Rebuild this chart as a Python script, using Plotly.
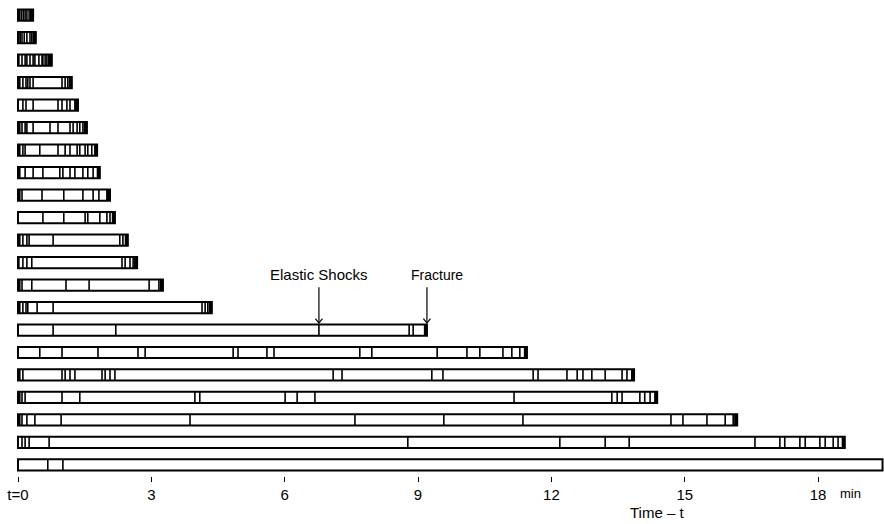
import plotly.graph_objects as go

# Duration of each test run in minutes, listed from the top row down
run_end = [0.34, 0.40, 0.76, 1.21, 1.35, 1.55, 1.78, 1.84, 2.07, 2.18, 2.47,
           2.68, 3.26, 4.36, 9.20, 11.45, 13.86, 14.38, 16.18, 18.60, 19.45]

# Runs that ended with the specimen breaking (dark cap at the right end)
fractured = [True] * 20 + [False]

# Times (minutes) of the recorded events inside each run
run_marks = [
    [0.04, 0.08, 0.12, 0.16, 0.20, 0.25, 0.29],
    [0.02, 0.05, 0.09, 0.14, 0.20, 0.27, 0.31, 0.35],
    [0.02, 0.09, 0.16, 0.20, 0.27, 0.34, 0.38, 0.47, 0.54, 0.56, 0.61, 0.65, 0.69],
    [0.04, 0.11, 0.18, 0.22, 0.27, 0.34, 0.99, 1.06, 1.12],
    [0.11, 0.18, 0.34, 0.90, 0.99, 1.10, 1.17, 1.28],
    [0.04, 0.09, 0.16, 0.20, 0.34, 0.72, 0.90, 1.17, 1.24, 1.33, 1.39, 1.46],
    [0.04, 0.11, 0.16, 0.49, 0.90, 1.06, 1.17, 1.33, 1.39, 1.51, 1.57, 1.66],
    [0.04, 0.16, 0.34, 0.56, 0.94, 1.01, 1.17, 1.28, 1.46, 1.57, 1.69],
    [0.04, 0.09, 0.54, 1.03, 1.46, 1.69, 1.82, 2.00],
    [0.56, 1.03, 1.51, 1.57, 1.84, 2.00, 2.07],
    [0.04, 0.11, 0.20, 0.25, 0.79, 2.29, 2.36, 2.43],
    [0.02, 0.11, 0.20, 0.31, 2.34, 2.41, 2.52, 2.59],
    [0.04, 0.09, 0.31, 1.08, 1.60, 2.95, 3.17],
    [0.04, 0.11, 0.18, 0.22, 0.43, 0.79, 4.14, 4.21, 4.27],
    [0.79, 2.20, 6.77, 8.80, 8.89],
    [0.49, 0.99, 1.80, 2.70, 2.86, 4.84, 4.95, 5.60, 5.76, 7.69, 7.96, 9.43,
     10.10, 10.39, 10.91, 11.11, 11.29],
    [0.04, 0.11, 0.99, 1.06, 1.17, 1.28, 1.89, 1.96, 2.07, 2.18, 7.09, 7.29,
     9.31, 9.56, 11.59, 11.70, 12.35, 12.58, 12.71, 12.91, 13.21, 13.59, 13.70, 13.81],
    [0.04, 0.09, 0.16, 0.99, 1.39, 3.98, 4.09, 6.01, 6.28, 6.68, 11.16, 13.36,
     13.48, 13.59, 13.99, 14.10, 14.22],
    [0.04, 0.09, 0.20, 0.38, 0.97, 3.87, 7.58, 9.58, 11.36, 14.69, 14.96, 15.50,
     15.91, 16.09],
    [0.09, 0.16, 0.25, 0.70, 8.77, 12.19, 13.21, 13.75, 16.58, 17.14, 17.25,
     17.59, 17.71, 18.04, 18.16, 18.34, 18.45],
    [0.67, 1.01],
]

tick_vals = [0, 3, 6, 9, 12, 15, 18]
tick_text = ["t=0", "3", "6", "9", "12", "15", "18"]

shock_time = 6.77
fracture_row = 14
fracture_time = run_end[fracture_row]

FONT = "Liberation Sans"
rows = list(range(len(run_end)))
half = 0.24  # half bar thickness in row units

fig = go.Figure()

# Run bars: white boxes with a black outline
fig.add_trace(go.Bar(
    y=rows, x=run_end, base=0, orientation="h", width=0.5,
    marker=dict(color="white", line=dict(color="black", width=2)),
    hoverinfo="skip",
))

# Event marks inside each bar
mx, my = [], []
for r, marks in zip(rows, run_marks):
    for m in marks:
        mx += [m, m, None]
        my += [r - half, r + half, None]
fig.add_trace(go.Scatter(x=mx, y=my, mode="lines",
                         line=dict(color="black", width=1.6), hoverinfo="skip"))

# Dark caps where the specimen fractured
cx, cy = [], []
for r, end, broke in zip(rows, run_end, fractured):
    if broke:
        cx += [end - 0.03, end - 0.03, None]
        cy += [r - half, r + half, None]
fig.add_trace(go.Scatter(x=cx, y=cy, mode="lines",
                         line=dict(color="black", width=3.5), hoverinfo="skip"))

# Pointer arrows above the fracture run
ax_, ay_ = [], []
tip = fracture_row - 0.31
top = fracture_row - 1.9
for t in (shock_time, fracture_time):
    ax_ += [t, t, None, t - 0.08, t, t + 0.08, None]
    ay_ += [top, tip, None, tip - 0.2, tip, tip - 0.2, None]
fig.add_trace(go.Scatter(x=ax_, y=ay_, mode="lines",
                         line=dict(color="black", width=1.2), hoverinfo="skip"))

annotations = [
    dict(x=shock_time, y=fracture_row - 2.45, xref="x", yref="y",
         text="Elastic Shocks", showarrow=False,
         font=dict(family=FONT, size=15, color="black")),
    dict(x=fracture_time + 0.22, y=fracture_row - 2.45, xref="x", yref="y",
         text="Fracture", showarrow=False,
         font=dict(family=FONT, size=14, color="black")),
    dict(x=18.72, y=-0.036, xref="x", yref="paper", text="min",
         showarrow=False, yanchor="middle",
         font=dict(family=FONT, size=13, color="black")),
    dict(x=14.38, y=-0.076, xref="x", yref="paper", text="Time \u2013 t",
         showarrow=False, yanchor="middle",
         font=dict(family=FONT, size=15, color="black")),
]

fig.update_layout(
    width=884, height=524,
    margin=dict(l=0, r=0, t=0, b=48),
    plot_bgcolor="white", paper_bgcolor="white",
    showlegend=False,
    annotations=annotations,
    xaxis=dict(
        range=[-0.405, 19.483], tickvals=tick_vals, ticktext=tick_text,
        ticks="outside", ticklen=5, tickwidth=1.2, tickcolor="black",
        showgrid=False, zeroline=False, showline=False,
        tickfont=dict(family=FONT, size=15, color="black"),
    ),
    yaxis=dict(range=[20.489, -0.667], visible=False,
               showgrid=False, zeroline=False),
)

fig.write_html("out.html")
